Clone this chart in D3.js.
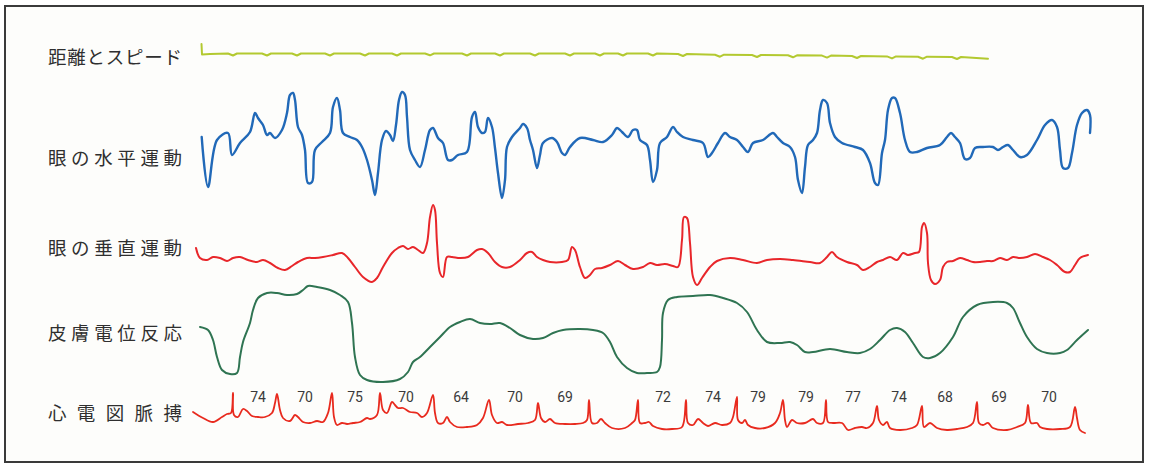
<!DOCTYPE html>
<html>
<head>
<meta charset="utf-8">
<script src="https://cdn.jsdelivr.net/npm/d3@7"></script>
<style>
  body { margin: 0; background: #fff; }
  svg { display: block; }
</style>
</head>
<body>
<svg width="1149" height="465"></svg>
<script>
// polygraph traces, time in frames (0..900), amplitude in trace units

var trackLabels = ["距離とスピード", "眼の水平運動", "眼の垂直運動", "皮膚電位反応", "心電図脈搏"];

// distance & speed (flat line with small dips)
var speedT = [11.5,12,20,38,43,47,72,77,81,102,107,111,135,140,144,170,175,179,202,207,211,235,240,244,272,277,281,305,310,314,340,345,349,375,380,384,405,410,414,428,433,437,458,463,467,488,493,497,525,530,534,562,567,571,598,603,607,632,637,641,662,667,671,697,702,706,728,733,737,762,767,771,798];
var speedV = [11,0.5,1,1.5,-0.5,1.5,1.5,-0.5,1.5,1.5,-0.5,1.5,1.5,-0.5,1.5,1.5,-0.5,1.5,1.5,-0.5,1.5,1.5,-0.3,1.5,1.5,-0.5,1.5,1.5,-0.5,1.5,1.5,-0.5,1.5,1.5,-0.5,1.5,1.5,-0.5,1.5,1.5,-0.5,1.5,1.5,-0.5,1.5,1,-1,1,0.3,-1.7,0.3,0,-2,0,-0.3,-2.3,-0.3,-0.6,-2.6,-0.6,-1,-3,-1,-1.4,-3.4,-1.4,-1.7,-3.7,-1.7,-2,-4,-2,-3.8];

// horizontal eye movement
var horizT = [11.7,18,27,38,42,50,60,65,68,73,77,80,85,92,97,100,103,105,108,112,115,118,122,125,132,140,143,147,150,153,160,167,172,177,182,185,188,192,196,200,203,206,209,212,215,217,220,225,230,235,240,243,248,253,258,262,268,277,282,285,288,292,295,298,302,305,308,312,315,317,322,330,333,337,340,343,347,350,353,362,367,372,375,380,390,403,413,422,427,432,438,443,447,450,457,460,463,467,470,477,483,487,493,503,513,518,522,528,535,540,547,553,558,563,573,583,587,593,600,605,608,612,615,618,623,627,630,633,637,640,645,652,665,673,680,685,688,692,695,698,702,705,710,715,720,727,737,750,757,761,765,770,775,780,785,793,803,808,813,818,823,830,837,847,855,862,867,870,873,878,882,887,892,897,900,900];
var horizV = [8,-42,5,12,-10,2,13,32,27,20,10,12,7,15,32,50,52,45,18,10,-5,-38,-37,-5,3,12,38,47,35,12,8,5,-2,-15,-35,-50,-28,5,14,10,4,20,45,53,50,28,-5,-15,-22,-5,15,17,7,2,-15,-15,-10,-7,28,33,18,12,13,27,18,-3,-28,-53,-35,-2,8,17,21,17,5,-5,-23,-10,2,7,3,-8,-10,-2,7,5,3,10,17,13,8,15,15,5,0,-15,-37,-25,2,8,18,13,8,5,2,-12,-8,2,12,8,5,-2,-7,2,5,12,8,2,-2,-12,-35,-48,-22,0,5,12,35,45,42,22,8,2,-2,-5,-18,-38,-40,-8,5,35,47,47,32,5,-7,-7,-3,0,8,12,8,2,-14,-13,-3,-2,-2,-5,-2,0,-5,-12,-10,5,20,25,18,-5,-23,-23,-8,20,32,35,30,12];

// vertical eye movement
var vertT = [6,10,17,23,30,37,43,50,58,67,73,80,88,95,102,108,117,125,133,143,152,158,165,173,182,187,193,202,208,213,218,223,228,233,237,240,243,245,247,250,253,257,262,270,278,287,292,298,305,312,320,330,337,342,347,353,360,372,378,382,385,390,395,400,405,412,420,428,435,443,453,460,467,475,483,488,492,494,497,500,503,507,512,520,527,540,553,567,577,590,603,620,630,637,642,647,657,667,673,680,687,693,700,707,713,718,725,729,732,734,737,738,741,745,750,753,757,763,770,777,783,790,797,803,810,817,823,830,837,845,853,860,867,875,880,885,890,898];
var vertV = [12,2,0,3,2,-1,2,3,0,-2,0,-3,-8,-10,-6,-2,2,2,3,5,7,2,-7,-17,-22,-18,-7,7,12,14,11,13,10,7,17,43,55,50,17,-13,-17,3,3,2,3,10,11,7,-2,-7,-7,0,7,8,3,0,-2,-2,0,13,10,-7,-18,-15,-9,-8,-5,-1,-5,-9,-7,-3,-5,-4,-6,-7,20,43,42,17,-17,-25,-18,-7,-1,2,0,-3,0,1,0,-2,-3,3,8,3,-2,-5,-10,-7,-2,0,3,0,7,5,7,8,33,37,27,-3,-20,-24,-20,-7,-2,-1,2,0,-2,-2,-1,-1,2,0,3,2,3,6,3,0,-5,-12,-12,-5,2,5];

// skin potential response
var skinT = [10,18,23,27,32,40,47,50,53,60,63,68,77,87,97,107,113,118,127,140,150,158,162,165,170,177,193,210,218,223,230,240,250,260,270,280,290,300,310,320,330,343,353,363,373,390,403,413,420,427,437,447,457,467,470,472,473,478,487,503,520,533,547,557,567,577,590,600,607,615,623,640,657,670,680,690,700,707,715,723,733,740,750,763,773,787,803,817,823,830,837,847,857,870,877,887,898];
var skinV = [8,5,-5,-22,-35,-39,-38,-22,-7,12,25,37,42,42,40,41,45,49,48,45,40,33,12,-22,-40,-45,-47,-44,-37,-27,-22,-12,-2,8,13,16,12,11,12,7,0,-4,-3,2,5,6,5,2,-7,-22,-33,-38,-38,-37,-32,-5,22,35,38,39,40,37,32,23,5,-7,-8,-7,-10,-17,-17,-14,-17,-18,-14,-5,5,7,3,-8,-22,-23,-18,-2,18,30,33,32,27,12,-2,-14,-18,-18,-15,-5,5];

// ECG
var ecgT = [3,13,23,32,37,41,43,44,48,53,57,62,68,75,82,85,87,90,93,100,105,108,113,120,127,133,138,142,144,147,152,157,163,170,177,180,187,190,193,197,202,205,208,213,220,227,232,237,243,245,248,253,257,260,267,277,287,293,299,302,307,312,317,328,338,345,348,351,355,360,365,375,385,393,397,399,402,407,411,415,422,435,442,445,448,450,455,459,463,472,482,492,496,498,503,508,513,518,525,532,540,543,547,548,552,555,558,565,575,585,590,593,595,597,602,607,615,623,627,633,636,638,643,652,658,665,672,677,683,687,689,693,697,700,710,722,727,732,734,740,747,757,767,777,783,787,789,793,798,803,817,827,835,838,841,847,850,857,870,880,885,887,890,895];
var ecgV = [8,2,-2,3,6,7,27,5,3,11,9,4,3,3,7,17,26,10,2,-1,5,3,-2,-3,-1,-2,7,27,3,-5,-3,-4,-3,-2,2,1,5,27,10,7,18,15,12,12,8,7,3,7,25,7,-3,-3,3,-2,-7,-7,-5,2,20,5,-3,-2,-5,-4,-3,0,17,2,-2,1,-3,-4,-4,-3,0,20,-3,-3,1,-3,-8,-8,-3,0,20,-3,-3,-2,-6,-9,-9,-7,20,-3,-5,1,-3,-6,-3,-5,-3,3,23,0,-3,0,-5,-8,-8,-3,7,20,0,-7,0,-3,-3,1,-3,-3,20,-2,-3,-3,-10,-8,-7,-8,-3,14,0,-5,-2,-8,-10,-8,-5,14,-7,-3,-8,-10,-9,-7,-3,18,-3,-5,-3,-8,-10,-7,-3,15,-3,-3,-7,-9,-9,-7,13,2,-10,-13];

// pulse rates written between beats
var pulseRates = [74, 70, 75, 70, 64, 70, 69, 72, 74, 79, 79, 77, 74, 68, 69, 70];
var pulseT = [68, 115, 165, 216, 271, 325, 375, 473, 523, 568, 616, 663, 709, 755, 809, 859];

var svg = d3.select('svg');

// frame
svg.append('rect')
  .attr('x', 5).attr('y', 6)
  .attr('width', 1138).attr('height', 456)
  .attr('fill', '#fdfdfb')
  .attr('stroke', '#3a3a3a')
  .attr('stroke-width', 2);

var x = d3.scaleLinear().domain([0, 900]).range([190, 1090]);

var zip = function (ts, vs) {
  return ts.map(function (t, i) { return [t, vs[i]]; });
};

var tracks = [
  { t: speedT, v: speedV, center: 55,  labelY: 57,  color: '#b3c930', width: 2,   curve: d3.curveLinear },
  { t: horizT, v: horizV, center: 145, labelY: 158, color: '#2169b8', width: 2.4, curve: d3.curveCatmullRom.alpha(0.5) },
  { t: vertT,  v: vertV,  center: 260, labelY: 248, color: '#e8262a', width: 2,   curve: d3.curveCatmullRom.alpha(0.5) },
  { t: skinT,  v: skinV,  center: 335, labelY: 333, color: '#2f7452', width: 2,   curve: d3.curveCatmullRom.alpha(0.5) },
  { t: ecgT,   v: ecgV,   center: 420, labelY: 413, color: '#e82a1e', width: 1.8, curve: d3.curveCatmullRom.alpha(0.5) }
];

tracks.forEach(function (tr, i) {
  var y = d3.scaleLinear().domain([-60, 60]).range([tr.center + 60, tr.center - 60]);
  tr.y = y;
  var line = d3.line()
    .x(function (d) { return x(d[0]); })
    .y(function (d) { return y(d[1]); })
    .curve(tr.curve);
  svg.append('path')
    .datum(zip(tr.t, tr.v))
    .attr('d', line)
    .attr('fill', 'none')
    .attr('stroke', tr.color)
    .attr('stroke-width', tr.width)
    .attr('stroke-linejoin', 'round')
    .attr('stroke-linecap', 'round');

  // label on the left
  svg.append('text')
    .attr('x', 48)
    .attr('y', tr.labelY)
    .attr('dy', '0.36em')
    .attr('textLength', 134)
    .attr('lengthAdjust', 'spacing')
    .attr('font-family', '"Noto Sans CJK JP", "Noto Sans", sans-serif')
    .attr('font-size', 18.5)
    .attr('fill', '#2f2f2f')
    .text(trackLabels[i]);
});

// pulse numbers above ECG
var ecgY = tracks[4].y;
svg.selectAll('text.rate')
  .data(pulseRates)
  .enter()
  .append('text')
  .attr('class', 'rate')
  .attr('x', function (d, i) { return x(pulseT[i]); })
  .attr('y', ecgY(23))
  .attr('dy', '0.36em')
  .attr('text-anchor', 'middle')
  .attr('font-family', 'Roboto, "DejaVu Sans", sans-serif')
  .attr('font-size', 14)
  .attr('fill', '#3a3a3a')
  .text(function (d) { return d; });
</script>
</body>
</html>
